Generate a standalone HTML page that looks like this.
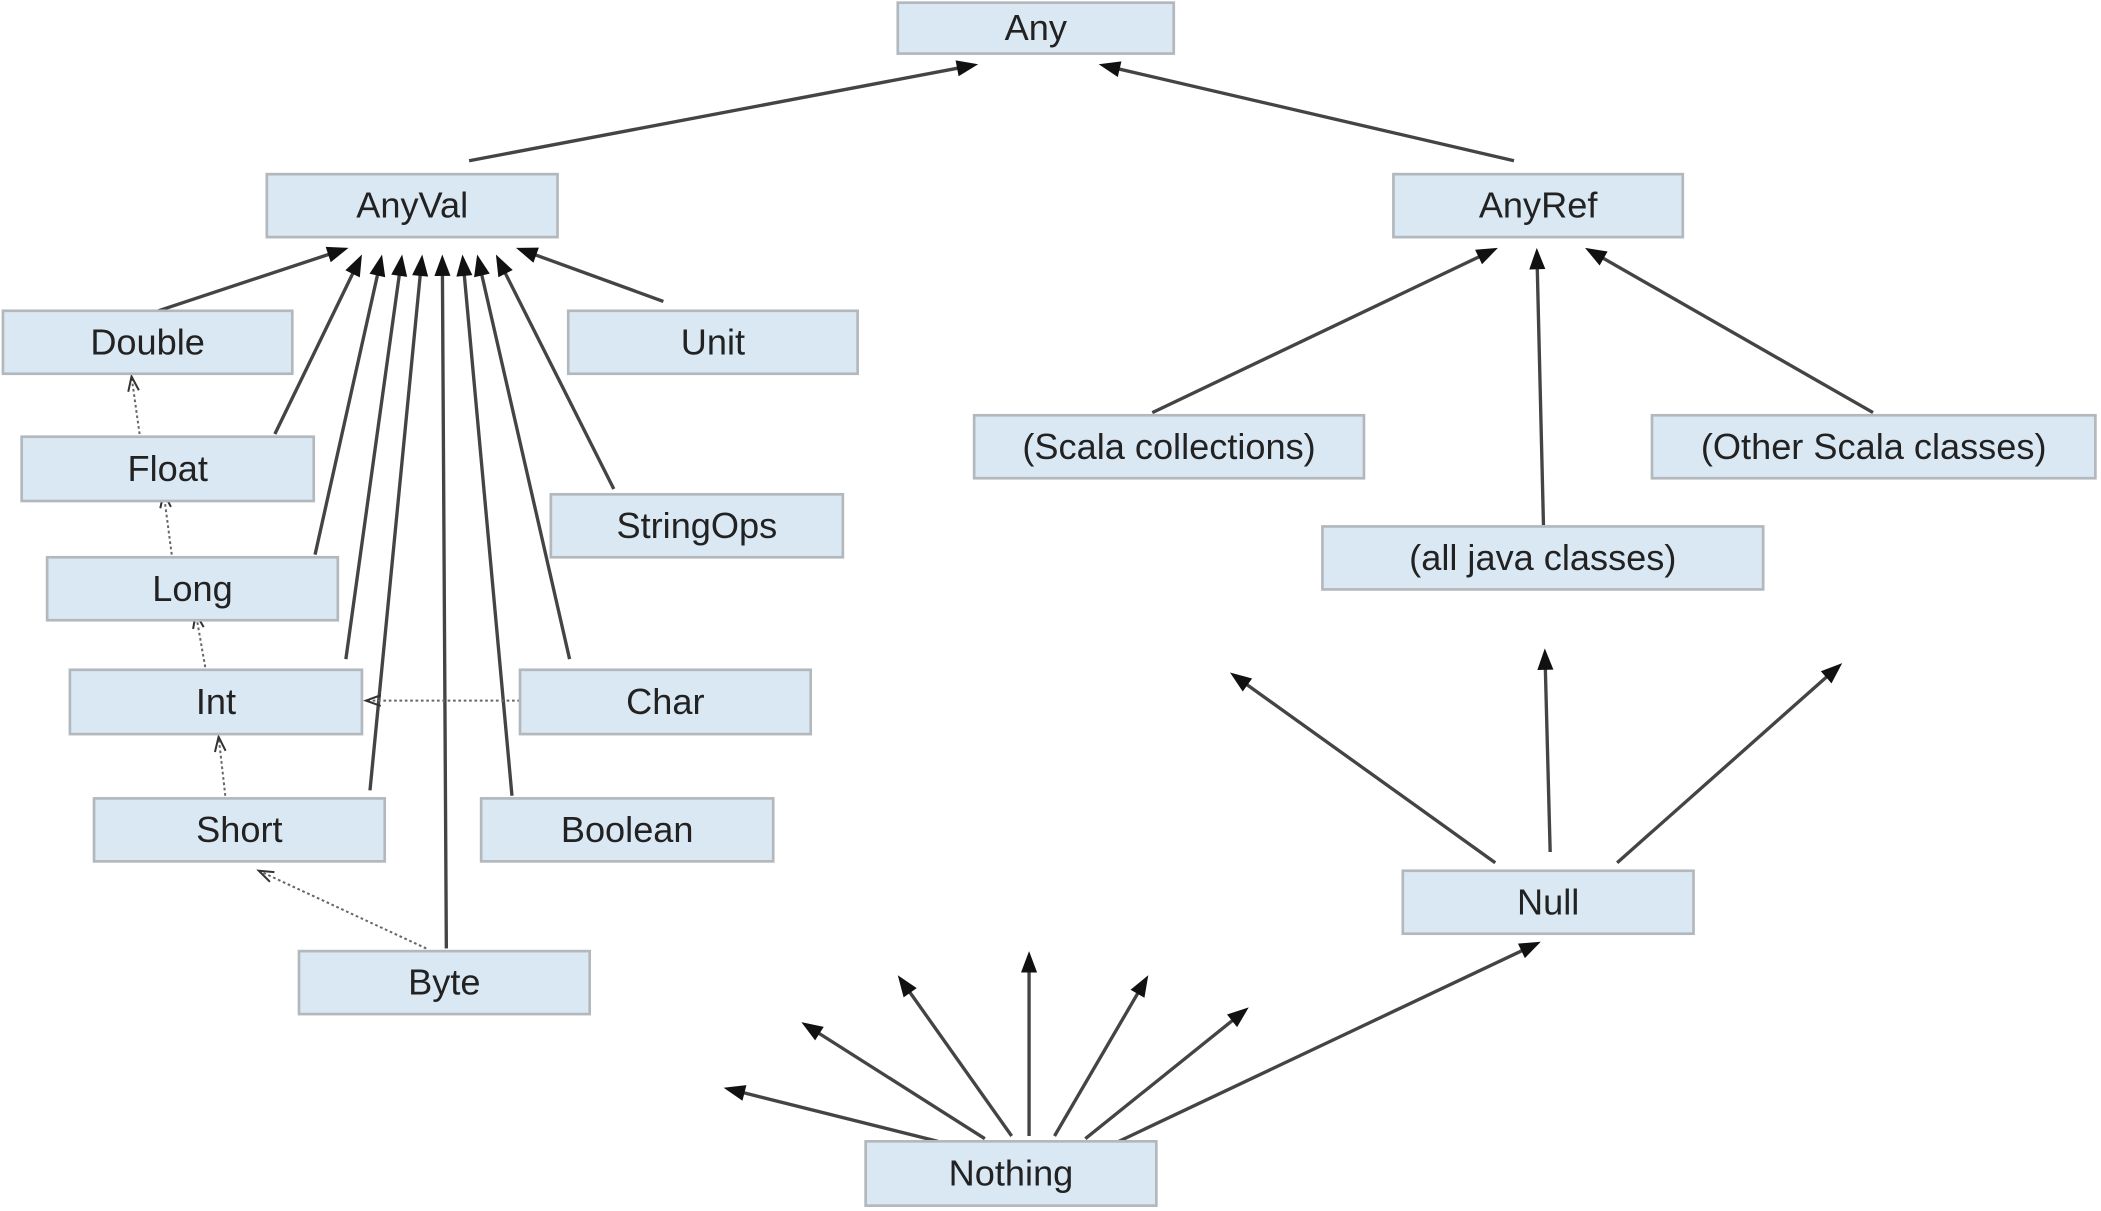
<!DOCTYPE html>
<html><head><meta charset="utf-8"><style>
html,body{margin:0;padding:0;background:#fff;}
svg{display:block;}
text{font-family:"Liberation Sans",sans-serif;font-size:27px;fill:#222;}
</style></head><body>
<svg id="chart" width="2101" height="1211" viewBox="0 0 1568 904" xmlns="http://www.w3.org/2000/svg">
<defs>
<marker id="solid" viewBox="0 0 10 10" refX="9" refY="5" markerWidth="7" markerHeight="7" orient="auto" markerUnits="userSpaceOnUse">
</marker>
</defs>
<g id="edges"></g>
<g id="nodes"></g>
</svg>
<script>
const nodeNames=["Any","AnyVal","AnyRef","Double","Unit","Float","StringOps","Long","Int","Char","Short","Boolean","Byte","(Scala collections)","(Other Scala classes)","(all java classes)","Null","Nothing"];
const nodeBoxes=[[670,2,206,38],[199,130,217,47],[1040,130,216,47],[2,232,216,47],[424,232,216,47],[16,326,218,48],[411,369,218,47],[35,416,217,47],[52,500,218,48],[388,500,217,48],[70,596,217,47],[359,596,218,47],[223,710,217,47],[727,310,291,47],[1233,310,331,47],[987,393,329,47],[1047,650,217,47],[646,852,217,48]];
const solidEdges=[[350,120,730,48],[1130,120,820,48],[118,232,260,185],[205,324,270,190],[235,414,285,190],[258,492,300,190],[276,590,315,190],[333,708,330,190],[382,594,345,190],[425,492,356,190],[458,365,370,190],[495,225,385,185],[860,308,1118,185],[1152,392,1147,185],[1398,308,1183,185],[1116,644,918,502],[1157,636,1153,484],[1207,644,1375,495],[835,852,1150,703],[700,852,540,812],[735,850,598,763],[755,848,670,728],[768,848,768,710],[787,848,857,728],[810,850,932,752]];
const dottedEdges=[[104,324,98,281],[128,414,122,368],[153,498,146,458],[168,594,163,550],[318,708,193,650],[388,523,273,523]];
const NS="http://www.w3.org/2000/svg";
const eg=document.getElementById('edges'),ng=document.getElementById('nodes');
function head(x1,y1,x2,y2,len,w,open){
  const a=Math.atan2(y2-y1,x2-x1),c=Math.cos(a),s=Math.sin(a);
  const bx=x2-len*c,by=y2-len*s;
  const p1=[bx-w*s,by+w*c],p2=[bx+w*s,by-w*c];
  return open?`M${p1[0]},${p1[1]} L${x2},${y2} L${p2[0]},${p2[1]}`:`M${p1[0]},${p1[1]} L${x2},${y2} L${p2[0]},${p2[1]} Z`;
}
solidEdges.forEach(e=>{
  const l=document.createElementNS(NS,'line');
  
  
  const a=Math.atan2(e[3]-e[1],e[2]-e[0]);
  l.setAttribute('x1',e[0]);l.setAttribute('y1',e[1]);
  l.setAttribute('x2',e[2]-12*Math.cos(a));l.setAttribute('y2',e[3]-12*Math.sin(a));
  l.setAttribute('stroke','#444');l.setAttribute('stroke-width','2.5');
  eg.appendChild(l);
  const h=document.createElementNS(NS,'path');
  
  
  h.setAttribute('d',head(e[0],e[1],e[2],e[3],16,6,false));
  h.setAttribute('fill','#111');
  eg.appendChild(h);
});
dottedEdges.forEach(e=>{
  const l=document.createElementNS(NS,'line');
  
  
  l.setAttribute('x1',e[0]);l.setAttribute('y1',e[1]);l.setAttribute('x2',e[2]);l.setAttribute('y2',e[3]);
  l.setAttribute('stroke','#666');l.setAttribute('stroke-width','1.5');l.setAttribute('stroke-dasharray','2,2');
  eg.appendChild(l);
  const h=document.createElementNS(NS,'path');
  
  
  h.setAttribute('d',head(e[0],e[1],e[2],e[3],11,4,true));
  h.setAttribute('fill','none');h.setAttribute('stroke','#333');h.setAttribute('stroke-width','1.5');
  eg.appendChild(h);
});
nodeNames.forEach((n,i)=>{
  const b=nodeBoxes[i];
  const g=document.createElementNS(NS,'g');
  
  
  const r=document.createElementNS(NS,'rect');
  r.setAttribute('x',b[0]);r.setAttribute('y',b[1]);r.setAttribute('width',b[2]);r.setAttribute('height',b[3]);
  r.setAttribute('fill','#dae8f4');r.setAttribute('stroke','#b3b8bd');r.setAttribute('stroke-width','2');
  g.appendChild(r);
  const t=document.createElementNS(NS,'text');
  t.setAttribute('x',b[0]+b[2]/2);t.setAttribute('y',b[1]+b[3]/2+9);
  t.setAttribute('text-anchor','middle');
  t.textContent=n;
  g.appendChild(t);
  ng.appendChild(g);
});
</script>
</body></html>
